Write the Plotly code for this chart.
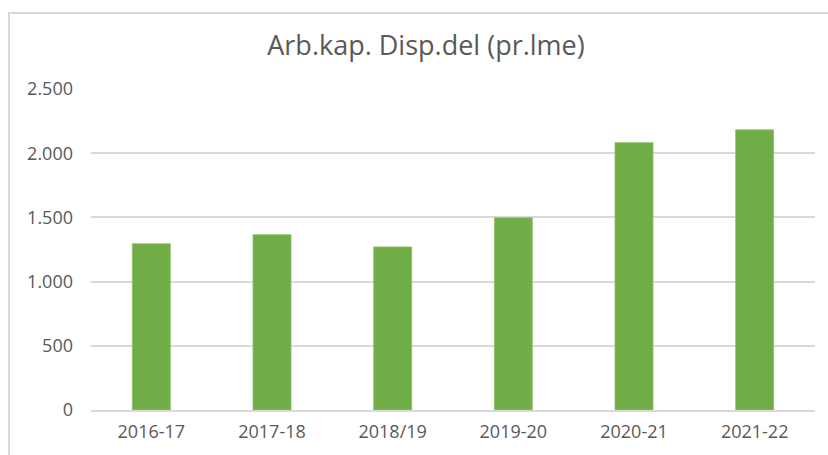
import plotly.graph_objects as go

categories = ["2016-17", "2017-18", "2018/19", "2019-20", "2020-21", "2021-22"]
values = [1295, 1365, 1270, 1497, 2082, 2182]
title_text = "Arb.kap. Disp.del (pr.lme)"

W, H = 828, 455
L, R, T, B = 91, 13, 89, 41
pw, ph = W - L - R, H - T - B

fig = go.Figure(go.Bar(
    x=categories, y=values,
    marker=dict(color="#70AD47", line=dict(color="#8CC26A", width=0.8)),
))

font = dict(family="Open Sans, sans-serif", color="#595959")

fig.update_layout(
    width=W, height=H,
    margin=dict(l=L, r=R, t=T, b=B),
    paper_bgcolor="white", plot_bgcolor="white",
    separators=",.",
    bargap=0.685,
    showlegend=False,
    title=dict(text=title_text, x=426 / W, xref="container", xanchor="center",
               y=1 - 46 / H, yref="container", yanchor="middle",
               font=dict(size=27, **font)),
    xaxis=dict(showgrid=False, showline=True, linecolor="#D9D9D9", linewidth=1.5,
               tickfont=dict(size=18, **font), ticks="", ticklabelstandoff=5),
    yaxis=dict(range=[0, 2500], tickvals=[0, 500, 1000, 1500, 2000, 2500],
               tickformat=",d", showgrid=True, gridcolor="#D9D9D9", gridwidth=1.5,
               zeroline=False, showline=False, ticks="",
               tickfont=dict(size=18, **font), ticklabelstandoff=17),
    shapes=[dict(type="rect", xref="paper", yref="paper",
                 x0=(9 - L) / pw, x1=(W + 5 - L) / pw,
                 y0=(H - B - (H + 10)) / ph,
                 y1=(H - B - 12) / ph,
                 line=dict(color="#D9D9D9", width=2), fillcolor="rgba(0,0,0,0)",
                 layer="below")],
)
fig.write_html("out.html", config={"displayModeBar": False},
               post_script="document.body.style.margin='0';document.body.style.overflow='hidden';")
